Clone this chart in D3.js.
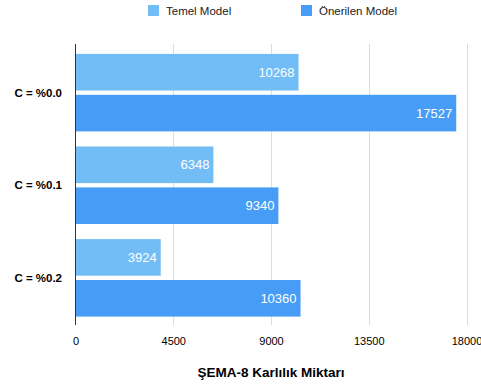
<!DOCTYPE html>
<html>
<head>
<meta charset="utf-8">
<script src="https://cdn.jsdelivr.net/npm/d3@7"></script>
<style>
  body { margin: 0; background: #fff; }
  svg { font-family: "Liberation Sans", Arial, Helvetica, sans-serif; }
</style>
</head>
<body>
<div id="chart"></div>
<script>
const categories = ['C = %0.0', 'C = %0.1', 'C = %0.2'];
const seriesNames = ['Temel Model', 'Önerilen Model'];
const temelValues = [10268, 6348, 3924];
const onerilenValues = [17527, 9340, 10360];
const tickValues = [0, 4500, 9000, 13500, 18000];
const colors = ['#73bdf7', '#479df5'];

const width = 481, height = 385;
const svg = d3.select('#chart').append('svg')
  .attr('width', width)
  .attr('height', height);

const x = d3.scaleLinear().domain([0, 18000]).range([75.5, 466.5]);
const plotTop = 44, plotBottom = 325;

const y0 = d3.scaleBand()
  .domain(categories)
  .range([46.5, 324])
  .paddingInner(0.163)
  .paddingOuter(0.08);

const y1 = d3.scaleBand()
  .domain(seriesNames)
  .range([0, y0.bandwidth()])
  .paddingInner(0.105);

// gridlines
svg.append('g')
  .selectAll('line')
  .data(tickValues.slice(1))
  .enter()
  .append('line')
  .attr('x1', d => Math.round(x(d)) + 0.5)
  .attr('x2', d => Math.round(x(d)) + 0.5)
  .attr('y1', plotTop)
  .attr('y2', plotBottom)
  .attr('stroke', '#dcdcdc')
  .attr('stroke-width', 1);

const rows = categories.map((c, i) => ({
  cat: c,
  vals: [temelValues[i], onerilenValues[i]]
}));

const groups = svg.append('g')
  .selectAll('g')
  .data(rows)
  .enter()
  .append('g')
  .attr('transform', d => 'translate(0,' + y0(d.cat) + ')');

groups.selectAll('rect')
  .data(d => d.vals.map((v, j) => ({ name: seriesNames[j], value: v, j: j })))
  .enter()
  .append('rect')
  .attr('x', x(0))
  .attr('y', d => y1(d.name))
  .attr('width', d => x(d.value) - x(0))
  .attr('height', y1.bandwidth())
  .attr('fill', d => colors[d.j]);

groups.selectAll('text.val')
  .data(d => d.vals.map((v, j) => ({ name: seriesNames[j], value: v })))
  .enter()
  .append('text')
  .attr('class', 'val')
  .attr('x', d => x(d.value) - 4)
  .attr('y', d => y1(d.name) + y1.bandwidth() / 2)
  .attr('dy', '0.36em')
  .attr('text-anchor', 'end')
  .attr('fill', '#fff')
  .style('font-size', '13px')
  .text(d => d.value);

// category labels
svg.append('g')
  .selectAll('text')
  .data(categories)
  .enter()
  .append('text')
  .attr('x', 62)
  .attr('y', d => y0(d) + y0.bandwidth() / 2)
  .attr('dy', '0.36em')
  .attr('text-anchor', 'end')
  .style('font-size', '11.5px')
  .style('font-weight', 'bold')
  .attr('fill', '#000')
  .text(d => d);

// y axis line
svg.append('line')
  .attr('x1', 75.5).attr('x2', 75.5)
  .attr('y1', plotTop).attr('y2', plotBottom)
  .attr('stroke', '#333')
  .attr('stroke-width', 1);

// x tick labels
const xAxis = svg.append('g')
  .attr('transform', 'translate(0,' + plotBottom + ')')
  .call(d3.axisBottom(x).tickValues(tickValues).tickSize(0).tickPadding(12).tickFormat(d3.format('d')));
xAxis.select('.domain').remove();
xAxis.selectAll('text')
  .style('font-size', '11px')
  .style('font-family', '"Liberation Sans", Arial, sans-serif')
  .attr('fill', '#000');

// axis title
svg.append('text')
  .attr('x', (x(0) + x(18000)) / 2)
  .attr('y', 377)
  .attr('text-anchor', 'middle')
  .style('font-size', '13.5px')
  .style('font-weight', 'bold')
  .text('ŞEMA-8 Karlılık Miktarı');

// legend
const legendX = [148, 301];
const legend = svg.append('g')
  .selectAll('g')
  .data(seriesNames)
  .enter()
  .append('g')
  .attr('transform', (d, i) => 'translate(' + legendX[i] + ',5)');
legend.append('rect')
  .attr('width', 11)
  .attr('height', 11)
  .attr('fill', (d, i) => colors[i]);
legend.append('text')
  .attr('x', 18)
  .attr('y', 5.5)
  .attr('dy', '0.36em')
  .style('font-size', '11.5px')
  .attr('fill', '#222')
  .text(d => d);
</script>
</body>
</html>
